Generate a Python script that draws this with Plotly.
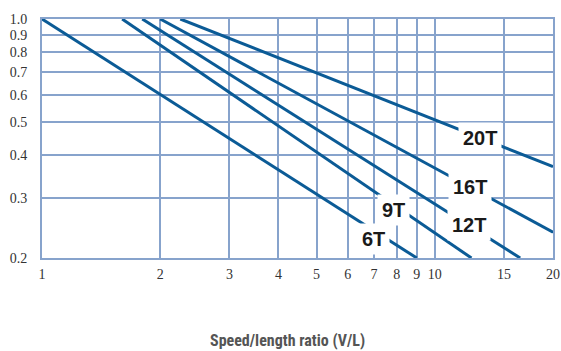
import numpy as np
import plotly.graph_objects as go

# Data (speed/length ratio vs. factor), straight lines on log-log axes
series_names = ["6T", "9T", "12T", "16T", "20T"]
x_start = [1.0, 1.6, 1.8, 2.0, 2.25]
y_start = [1.0, 1.0, 1.0, 1.0, 1.0]
x_end = [9.0, 12.4, 16.5, 20.0, 20.0]
y_end = [0.2, 0.2, 0.2, 0.238, 0.37]
label_x = [7.0, 7.84, 12.2, 12.3, 13.0]

x_ticks = [1, 2, 3, 4, 5, 6, 7, 8, 9, 10, 15, 20]
x_ticktext = ["1", "2", "3", "4", "5", "6", "7", "8", "9", "10", "15", "20"]
y_ticks = [0.2, 0.3, 0.4, 0.5, 0.6, 0.7, 0.8, 0.9, 1.0]
y_ticktext = ["0.2", "0.3", "0.4", "0.5", "0.6", "0.7", "0.8", "0.9", "1.0"]

LINE = "#0b5b96"
GRID = "#87a3cc"

fig = go.Figure()
for name, xs, ys, xe, ye in zip(series_names, x_start, y_start, x_end, y_end):
    fig.add_trace(go.Scatter(x=[xs, xe], y=[ys, ye], mode="lines", name=name,
                             line=dict(color=LINE, width=3), showlegend=False,
                             hoverinfo="skip"))

# labels placed on their lines (interpolated in log space)
label_yshift = {"6T": -8, "9T": -6}
for name, xs, ys, xe, ye, lx in zip(series_names, x_start, y_start, x_end, y_end, label_x):
    t = (np.log10(lx) - np.log10(xs)) / (np.log10(xe) - np.log10(xs))
    ly = np.log10(ys) + t * (np.log10(ye) - np.log10(ys))
    fig.add_annotation(x=np.log10(lx), y=ly, xref="x", yref="y", text=f"<b>{name}</b>",
                       showarrow=False, bgcolor="white", borderpad=4,
                       yshift=label_yshift.get(name, 0),
                       font=dict(family="Liberation Sans, Arial, sans-serif", size=20, color="#1a1a1a"))

fig.add_annotation(x=(287 - 42) / 511, y=(258 - 340) / 239, xref="paper", yref="paper",
                   text="<b>Speed/length ratio (V/L)</b>", showarrow=False,
                   xanchor="center", yanchor="middle", borderpad=0,
                   font=dict(family="Liberation Sans Narrow, Roboto Condensed, Liberation Sans, sans-serif",
                             size=16, color="#555555"))

axis_common = dict(showgrid=True, gridcolor=GRID, gridwidth=2, showline=True, mirror=True,
                   linecolor=GRID, linewidth=2, ticks="", zeroline=False, automargin=False,
                   tickfont=dict(family="Liberation Serif, Times New Roman, serif", size=14, color="#333333"))

fig.update_xaxes(type="log", range=[0, np.log10(20)], tickvals=x_ticks, ticktext=x_ticktext,
                 ticklabelstandoff=2, **axis_common)
fig.update_yaxes(type="log", range=[np.log10(0.2), 0], tickvals=y_ticks, ticktext=y_ticktext,
                 ticklabelstandoff=10, **axis_common)

fig.update_layout(width=561, height=351, margin=dict(l=42, r=8, t=19, b=93),
                  paper_bgcolor="white", plot_bgcolor="white")

fig.write_html("out.html", config={"displayModeBar": False},
               post_script="document.body.style.margin='0';document.body.style.overflow='hidden';")
